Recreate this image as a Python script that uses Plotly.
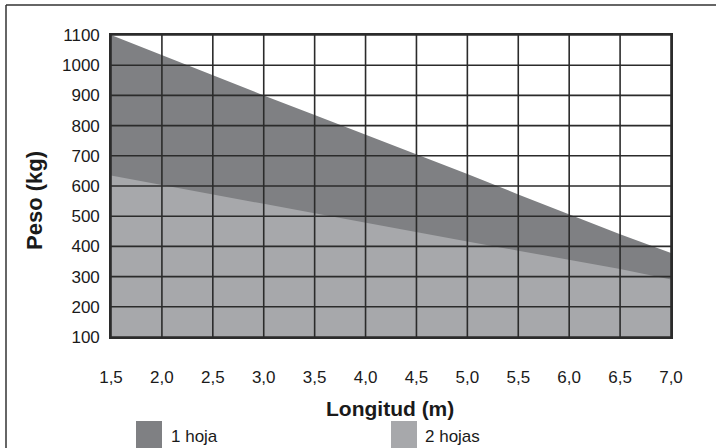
import plotly.graph_objects as go

# Data
longitud = [1.5, 2.0, 2.5, 3.0, 3.5, 4.0, 4.5, 5.0, 5.5, 6.0, 6.5, 7.0]
peso_1_hoja = [1100, 1033, 967, 900, 835, 770, 705, 640, 572, 505, 440, 378]
peso_2_hojas = [635, 603, 573, 541, 510, 478, 447, 416, 386, 356, 325, 290]
x_tick_vals = [1.5, 2.0, 2.5, 3.0, 3.5, 4.0, 4.5, 5.0, 5.5, 6.0, 6.5, 7.0]
x_tick_text = ["1,5", "2,0", "2,5", "3,0", "3,5", "4,0", "4,5", "5,0", "5,5", "6,0", "6,5", "7,0"]
y_tick_vals = [100, 200, 300, 400, 500, 600, 700, 800, 900, 1000, 1100]
series_names = ["1 hoja", "2 hojas"]

DARK = "#7f8083"
LIGHT = "#a7a8ab"
GRID = "#2b2b2b"
FONT = "Liberation Sans, Arial, sans-serif"

W, H = 716, 448
L, R, T, B = 111, 45, 35, 111
PW, PH = W - L - R, H - T - B

def px2x(px):
    return (px - L) / PW

def px2y(py):
    return (H - B - py) / PH

fig = go.Figure()
fig.add_trace(go.Scatter(x=longitud, y=peso_1_hoja, name=series_names[0], mode="lines",
                         line=dict(width=0, color=DARK), fill="tozeroy", fillcolor=DARK,
                         showlegend=False))
fig.add_trace(go.Scatter(x=longitud, y=peso_2_hojas, name=series_names[1], mode="lines",
                         line=dict(width=0, color=LIGHT), fill="tozeroy", fillcolor=LIGHT,
                         showlegend=False))

shapes = []
# gridlines above the fills
for xv in x_tick_vals:
    shapes.append(dict(type="line", xref="x", yref="paper", x0=xv, x1=xv, y0=0, y1=1,
                       line=dict(color=GRID, width=1.6), layer="above"))
for yv in y_tick_vals:
    shapes.append(dict(type="line", xref="paper", yref="y", x0=0, x1=1, y0=yv, y1=yv,
                       line=dict(color=GRID, width=1.6), layer="above"))
# outer frame (top and left edges)
shapes.append(dict(type="line", xref="paper", yref="paper", x0=px2x(6), x1=px2x(720),
                   y0=px2y(5), y1=px2y(5), line=dict(color="#333333", width=1.5)))
shapes.append(dict(type="line", xref="paper", yref="paper", x0=px2x(6), x1=px2x(6),
                   y0=px2y(5), y1=px2y(452), line=dict(color="#333333", width=1.5)))
# legend swatches
shapes.append(dict(type="rect", xref="paper", yref="paper", x0=px2x(136), x1=px2x(162),
                   y0=px2y(421), y1=px2y(452), fillcolor=DARK, line=dict(width=0)))
shapes.append(dict(type="rect", xref="paper", yref="paper", x0=px2x(391), x1=px2x(417),
                   y0=px2y(421), y1=px2y(452), fillcolor=LIGHT, line=dict(width=0)))

annotations = [
    dict(text="<b>Longitud (m)</b>", xref="paper", yref="paper", x=px2x(390), y=px2y(408),
         showarrow=False, xanchor="center", yanchor="middle",
         font=dict(family=FONT, size=21, color="#1a1a1a")),
    dict(text="<b>Peso (kg)</b>", xref="paper", yref="paper", x=px2x(35), y=px2y(201),
         showarrow=False, xanchor="center", yanchor="middle", textangle=-90,
         font=dict(family=FONT, size=22, color="#1a1a1a")),
    dict(text=series_names[0], xref="paper", yref="paper", x=px2x(169), y=px2y(436),
         showarrow=False, xanchor="left", yanchor="middle",
         font=dict(family=FONT, size=17, color="#1a1a1a")),
    dict(text=series_names[1], xref="paper", yref="paper", x=px2x(423), y=px2y(436),
         showarrow=False, xanchor="left", yanchor="middle",
         font=dict(family=FONT, size=17, color="#1a1a1a")),
]

fig.update_layout(
    width=W, height=H,
    margin=dict(l=L, r=R, t=T, b=B),
    paper_bgcolor="white", plot_bgcolor="white",
    showlegend=False,
    shapes=shapes,
    annotations=annotations,
    font=dict(family=FONT, size=17, color="#1a1a1a"),
)
fig.update_xaxes(range=[1.5, 7.0], tickvals=x_tick_vals, ticktext=x_tick_text,
                 showgrid=False, zeroline=False, showline=True, mirror=True,
                 linecolor=GRID, linewidth=1.6, ticks="", ticklabelstandoff=24,
                 tickfont=dict(family=FONT, size=17, color="#1a1a1a"))
fig.update_yaxes(range=[100, 1100], tickvals=y_tick_vals,
                 showgrid=False, zeroline=False, showline=True, mirror=True,
                 linecolor=GRID, linewidth=1.6, ticks="", ticklabelstandoff=6,
                 tickfont=dict(family=FONT, size=17, color="#1a1a1a"))

fig.write_html("out.html", config={"displayModeBar": False},
               post_script="document.body.style.margin='0';document.body.style.overflow='hidden';")
